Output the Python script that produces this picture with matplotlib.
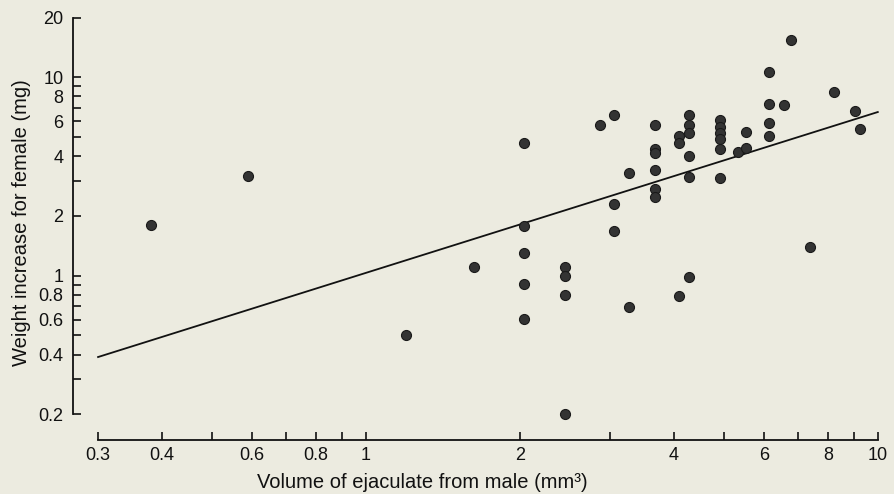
import numpy as np
import matplotlib
matplotlib.use("Agg")
import matplotlib.pyplot as plt
from matplotlib.ticker import FixedLocator, NullFormatter, FixedFormatter

plt.rcParams['font.family'] = ['Liberation Sans', 'DejaVu Sans']

# Data (volume of ejaculate mm^3, weight increase mg)
volume = [0.38, 0.59, 1.2, 1.63,
          2.04, 2.04, 2.04, 2.04, 2.04,
          2.45, 2.45, 2.45, 2.45,
          2.87,
          3.05, 3.05, 3.05,
          3.27, 3.27,
          3.67, 3.67, 3.67, 3.67, 3.67, 3.67,
          4.09, 4.09, 4.09,
          4.28, 4.28, 4.28, 4.28, 4.28, 4.28,
          4.92, 4.92, 4.92, 4.92, 4.92, 4.92,
          5.33,
          5.53, 5.53,
          6.12, 6.12, 6.12, 6.12,
          6.57, 6.77, 7.38, 8.21, 9.03, 9.24]
weight = [1.80, 3.18, 0.50, 1.11,
          4.65, 1.79, 1.30, 0.905, 0.603,
          1.11, 1.0, 0.80, 0.20,
          5.75,
          6.46, 2.30, 1.68,
          3.29, 0.695,
          5.75, 4.37, 4.17, 3.41, 2.74, 2.49,
          5.06, 4.67, 0.79,
          6.46, 5.75, 5.24, 4.01, 3.14, 0.985,
          6.09, 5.64, 5.22, 4.87, 4.34, 3.11,
          4.22,
          5.32, 4.39,
          10.6, 7.31, 5.86, 5.06,
          7.28, 15.4, 1.40, 8.43, 6.76, 5.49]

# Regression line endpoints (log-log fit as drawn)
fit_x = [0.3, 10.0]
fit_y = [0.389, 6.68]

x_ticks = [0.3, 0.4, 0.5, 0.6, 0.7, 0.8, 0.9, 1, 2, 3, 4, 5, 6, 7, 8, 9, 10]
x_labels = ['0.3', '0.4', '', '0.6', '', '0.8', '', '1', '2', '', '4', '', '6', '', '8', '', '10']
y_ticks = [0.2, 0.3, 0.4, 0.5, 0.6, 0.7, 0.8, 0.9, 1, 2, 3, 4, 5, 6, 7, 8, 9, 10, 20]
y_labels = ['0.2', '', '0.4', '', '0.6', '', '0.8', '', '1', '2', '', '4', '', '6', '', '8', '', '10', '20']

bg = '#ecebe0'
fig = plt.figure(figsize=(8.95, 4.94), dpi=100, facecolor=bg)
ax = fig.add_axes([73/895, 1 - 440/494, 807/895, 425/494])
ax.set_facecolor(bg)

ax.plot(fit_x, fit_y, color='#111111', lw=1.3, zorder=2)
ax.scatter(volume, weight, s=52, color='#333333', edgecolors='#1a1a1a',
           linewidths=0.8, zorder=3)

ax.set_xscale('log')
ax.set_yscale('log')
ax.set_xlim(0.268, 10.1)
ax.set_ylim(0.1485, 20.6)

ax.xaxis.set_major_locator(FixedLocator(x_ticks))
ax.xaxis.set_major_formatter(FixedFormatter(x_labels))
ax.xaxis.set_minor_locator(FixedLocator([]))
ax.xaxis.set_minor_formatter(NullFormatter())
ax.yaxis.set_major_locator(FixedLocator(y_ticks))
ax.yaxis.set_major_formatter(FixedFormatter(y_labels))
ax.yaxis.set_minor_locator(FixedLocator([]))
ax.yaxis.set_minor_formatter(NullFormatter())

for s in ['top', 'right']:
    ax.spines[s].set_visible(False)
ax.spines['left'].set_bounds(0.2, 20)
ax.spines['bottom'].set_bounds(0.3, 10)
for s in ['left', 'bottom']:
    ax.spines[s].set_linewidth(1.3)
    ax.spines[s].set_color('#111111')

ax.tick_params(axis='x', direction='in', length=6, width=1.2, pad=5,
               labelsize=13, colors='#111111')
ax.tick_params(axis='y', direction='in', length=6, width=1.2, pad=7,
               labelsize=13, colors='#111111')

ax.set_xlabel('Volume of ejaculate from male (mm³)', fontsize=14.5,
              color='#111111', va='center')
ax.set_ylabel('Weight increase for female (mg)', fontsize=14.5,
              color='#111111', va='center')
ax.xaxis.set_label_coords(0.4325, -0.101)
ax.yaxis.set_label_coords(-0.0644, 0.511)

fig.savefig('out.png', dpi=100, facecolor=bg)
